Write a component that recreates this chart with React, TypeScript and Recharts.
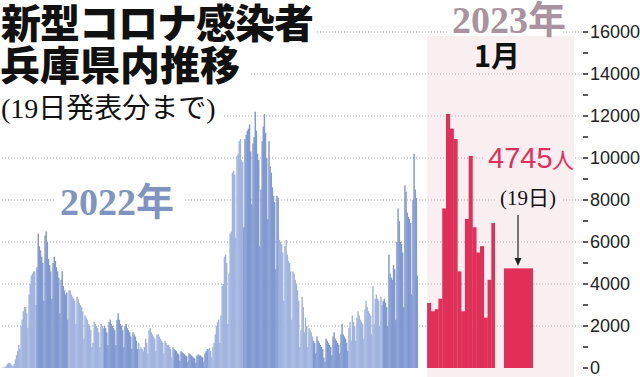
import { Bar, BarChart, Cell, ReferenceLine, XAxis, YAxis } from 'recharts';

// daily new cases, Hyogo, 2022
const jan22 = [10, 15, 20, 50, 100, 200, 250, 240, 200, 120, 100, 200, 400, 600, 800, 1100, 900, 2000, 2300, 2700, 2900, 2900, 2600, 1900, 3500, 4000, 4400, 4500, 4600, 4600, 3000];
const feb22 = [4800, 6400, 5800, 5600, 5300, 5000, 3200, 6300, 6500, 6000, 5200, 4900, 4600, 3300, 5000, 5300, 5100, 4800, 4600, 4300, 2600, 4200, 4600, 3900, 3700, 3500, 3600, 2300];
const mar22 = [3700, 3700, 3500, 3400, 3300, 3200, 2100, 3400, 3300, 3100, 3000, 2900, 2700, 1400, 2500, 2400, 2300, 2100, 2000, 1800, 1000, 1200, 2200, 2100, 2000, 1900, 1700, 1000, 2100, 2000, 1900];
const apr22 = [2000, 1900, 1700, 1100, 2200, 2300, 2100, 2000, 1900, 1800, 1100, 2300, 2600, 2300, 2100, 2000, 1800, 1000, 2000, 2100, 1900, 1800, 1700, 1500, 900, 1700, 1600, 1500, 1300, 900];
const may22 = [1200, 900, 1000, 900, 800, 1000, 1400, 1200, 700, 1800, 1900, 1700, 1600, 1500, 1400, 800, 1600, 1600, 1500, 1400, 1300, 1200, 700, 1300, 1200, 1100, 1100, 1000, 900, 500, 1000];
const jun22 = [900, 850, 800, 700, 650, 350, 800, 750, 700, 650, 600, 550, 300, 700, 650, 600, 550, 500, 450, 250, 600, 650, 600, 600, 550, 500, 300, 700, 800, 900];
const jul22 = [900, 950, 800, 500, 1000, 1200, 1600, 2000, 2200, 2300, 1200, 2500, 3900, 4000, 5300, 5400, 5000, 2100, 4500, 6400, 6500, 9300, 9400, 9200, 6200, 10100, 10200, 10800, 10900, 9900, 9800];
const aug22 = [6700, 10900, 11100, 11300, 11400, 11600, 10300, 7800, 10700, 11000, 12200, 11300, 10200, 9900, 5800, 8500, 10800, 11500, 12100, 11200, 10000, 7100, 10800, 9600, 9300, 8600, 8200, 7900, 4700, 8200, 8100];
const sep22 = [6100, 6000, 5900, 5500, 3200, 5800, 6100, 5400, 5100, 5000, 4600, 2300, 4600, 4500, 4200, 4000, 3700, 3200, 1000, 1800, 3400, 2900, 1700, 2400, 2000, 1000, 1900, 1800, 1700, 1500];
const oct22 = [1300, 1200, 700, 1500, 1300, 1200, 1100, 1000, 900, 500, 300, 1400, 1300, 1200, 1100, 1000, 600, 1500, 1700, 1400, 1300, 1200, 1100, 700, 1600, 2100, 1600, 1500, 1400, 1200, 800];
const nov22 = [1900, 2200, 1300, 2500, 2200, 2000, 1300, 2400, 2700, 2500, 2300, 2200, 2100, 1400, 2800, 3200, 2900, 2700, 2600, 2500, 1600, 3900, 2100, 3300, 3500, 3300, 3200, 2000, 3400, 3000];
const dec22 = [3200, 3300, 3100, 2900, 2000, 5400, 4500, 4300, 4200, 4900, 4700, 2300, 6000, 7600, 7000, 6000, 5900, 5500, 2900, 8700, 8400, 7400, 7200, 7100, 6900, 3500, 8000, 10200, 8500, 8100, 4400];

// January 2023, days 1-18, and the highlighted 19th
const jan23 = [3100, 2700, 2800, 3300, 7600, 12100, 11400, 10900, 4600, 2700, 7100, 10100, 6700, 5500, 5800, 2400, 4200, 6900];
const latest = 4745;

const yTicks = Array.from({ length: 17 }, (_, i) => i * 1000);
const gridValues = [2000, 4000, 6000, 8000, 10000, 12000, 14000, 16000];

const months22 = [jan22, feb22, mar22, apr22, may22, jun22, jul22, aug22, sep22, oct22, nov22, dec22];
const rows22 = months22.flatMap((vals, m) => vals.map((v, i) => ({ day: `22-${m + 1}-${i + 1}`, v, m })));
const rows23 = jan23.map((v, i) => ({ day: `23-1-${i + 1}`, v }));
const rowsLatest = [{ day: '23-1-19', v: latest }];

const LIGHT = '#a1b4df';
const DARK = '#8099d0';
const RED = '#e0305a';
const PINK = '#f9eff1';
const H = 377;
const M = { top: 32, right: 0, bottom: 9, left: 0 };
const DOMAIN: [number, number] = [0, 16000];

const AxisTick = (props: any) => {
  const { x, y, payload } = props;
  const major = payload.value % 2000 === 0;
  return (
    <g>
      <line x1={x + 1} x2={x + 6} y1={y} y2={y} stroke="#333" strokeWidth={1.6} />
      {major && (
        <text x={x + 8} y={y} dy="0.36em" fontSize={18} fill="#222" fontFamily="'Liberation Sans', Arial, sans-serif">
          {payload.value}
        </text>
      )}
    </g>
  );
};

// recharts floors bar widths, so widen each bar back to its full day slot
const bandShape = (band: number) => (p: any) => (
  <rect
    x={p.x + p.width / 2 - band / 2}
    y={p.y}
    width={band + 0.3}
    height={Math.max(p.height, 0)}
    fill={p.fill}
  />
);

function Bars({ data, fill, width, left, cells }: { data: any[]; fill: string; width: number; left: number; cells?: boolean }) {
  return (
    <div style={{ position: 'absolute', left, top: 0 }}>
      <BarChart width={width} height={H} data={data} margin={M} barCategoryGap={0} barGap={0}>
        <XAxis dataKey="day" hide />
        <YAxis hide domain={DOMAIN} />
        <Bar dataKey="v" fill={fill} shape={bandShape(width / data.length)} isAnimationActive={false}>
          {cells && data.map((r) => <Cell key={r.day} fill={r.m % 2 ? DARK : LIGHT} />)}
        </Bar>
      </BarChart>
    </div>
  );
}

export default function App() {
  const jp = "'Noto Sans CJK JP', sans-serif";
  const serif = "'Liberation Serif', 'Noto Sans CJK JP', serif";
  return (
    <div style={{ position: 'relative', width: 640, height: H, background: '#fff', overflow: 'hidden' }}>
      <style>{'body{margin:0}'}</style>
      <div style={{ position: 'absolute', left: 427, top: 36, width: 147, height: H - 36, background: PINK }} />

      {/* axis + dotted grid, behind the bars */}
      <div style={{ position: 'absolute', left: 0, top: 0 }}>
        <BarChart width={640} height={H} data={rows22} margin={M}>
          <XAxis dataKey="day" hide />
          <YAxis
            orientation="right"
            width={58}
            domain={DOMAIN}
            ticks={yTicks}
            interval={0}
            tick={AxisTick}
            axisLine={false}
            tickLine={false}
            tickSize={0}
            tickMargin={0}
          />
          <Bar dataKey="v" fill="none" isAnimationActive={false} />
          {gridValues.map((g) => (
            <ReferenceLine key={g} y={g} stroke="#aaa" strokeDasharray="1 2" strokeWidth={1} />
          ))}
        </BarChart>
      </div>

      <Bars data={rows22} fill={LIGHT} width={417} left={1} cells />
      <Bars data={rows23} fill={RED} width={68} left={427} />
      <Bars data={rowsLatest} fill={RED} width={29} left={504} />

      <svg width={640} height={H} style={{ position: 'absolute', left: 0, top: 0 }}>
        <rect x={0} y={0} width={316} height={44} fill="#fff" />
        <rect x={0} y={44} width={250} height={42} fill="#fff" />
        <rect x={0} y={88} width={224} height={38} fill="#fff" />
        <text x={1} y={38} fontFamily={jp} fontWeight={900} fontSize={40} letterSpacing={-1} fill="#111">新型コロナ感染者</text>
        <text x={0} y={80} fontFamily={jp} fontWeight={900} fontSize={40} fill="#111">兵庫県内推移</text>
        <text x={1} y={118} fontFamily={serif} fontSize={28} fill="#111">(19日発表分まで)</text>

        <rect x={55} y={184} width={128} height={36} fill="#fff" />
        <text x={60} y={215} fontFamily={serif} fontWeight={700} fontSize={38} fill="#8094c2">2022年</text>

        <rect x={447} y={0} width={116} height={35} fill="#fff" />
        <text x={452} y={33} fontFamily={serif} fontWeight={700} fontSize={38} fill="#a8939e">2023年</text>
        <text x={474} y={67} fontFamily={jp} fontWeight={700} fontSize={29} fill="#111">1月</text>

        <rect x={485} y={140} width={89} height={32} fill={PINK} />
        <text x={488} y={168} fontFamily="'Liberation Sans', Arial, sans-serif" fontSize={29} fill={RED}>4745</text>
        <text x={552} y={168} fontFamily={jp} fontSize={22} fill={RED}>人</text>
        <rect x={496} y={186} width={65} height={24} fill={PINK} />
        <text x={500} y={205} fontFamily={serif} fontSize={21} fill="#111">(19日)</text>

        <line x1={518} x2={518} y1={215} y2={260} stroke="#222" strokeWidth={1.2} />
        <polygon points="514.5,258 521.5,258 518,266" fill="#222" />
      </svg>
    </div>
  );
}
